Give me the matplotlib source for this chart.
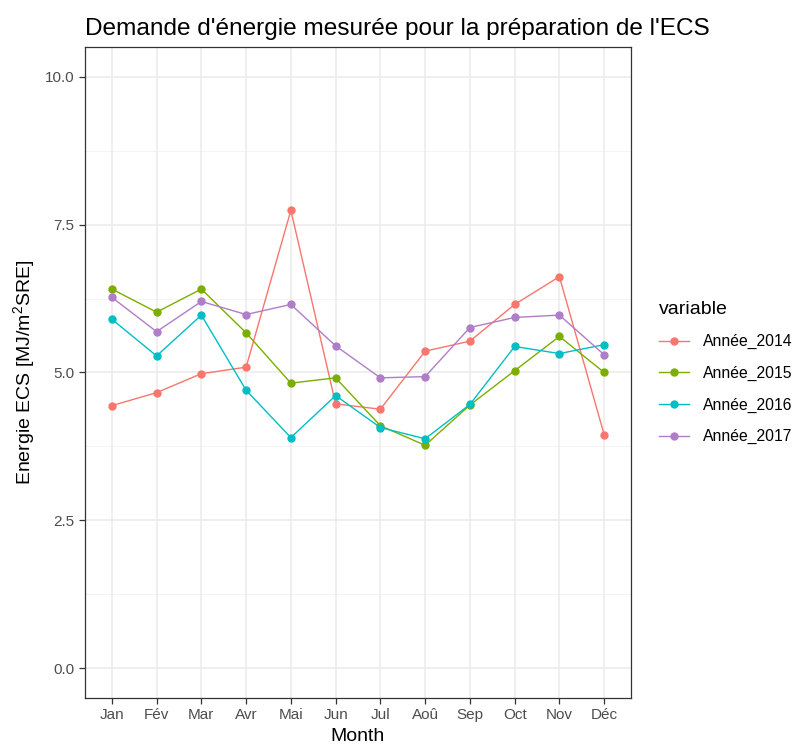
import matplotlib
matplotlib.use("Agg")
import matplotlib.pyplot as plt
import numpy as np

plt.rcParams['font.family'] = ['Liberation Sans', 'DejaVu Sans']
plt.rcParams['mathtext.fontset'] = 'custom'
plt.rcParams['mathtext.rm'] = 'Liberation Sans'
plt.rcParams['mathtext.it'] = 'Liberation Sans'

mois = ['Jan', 'Fév', 'Mar', 'Avr', 'Mai', 'Jun', 'Jul', 'Aoû', 'Sep', 'Oct', 'Nov', 'Déc']

annee_2014 = [4.44, 4.66, 4.98, 5.09, 7.74, 4.47, 4.38, 5.36, 5.53, 6.15, 6.62, 3.95]
annee_2015 = [6.41, 6.02, 6.41, 5.67, 4.82, 4.91, 4.10, 3.77, 4.45, 5.03, 5.61, 5.00]
annee_2016 = [5.90, 5.28, 5.97, 4.70, 3.90, 4.61, 4.07, 3.88, 4.46, 5.44, 5.32, 5.47]
annee_2017 = [6.27, 5.69, 6.20, 5.98, 6.15, 5.45, 4.91, 4.93, 5.76, 5.93, 5.97, 5.30]

series = {
    'Année_2014': annee_2014,
    'Année_2015': annee_2015,
    'Année_2016': annee_2016,
    'Année_2017': annee_2017,
}
couleurs = ['#F8766D', '#7CAE00', '#00BFC4', '#B07DC8']

fig = plt.figure(figsize=(7.98, 7.44), dpi=100, facecolor='white')
ax = fig.add_axes([85 / 798, 46 / 744, 546 / 798, 651 / 744])

x = np.arange(len(mois))

# grille style theme_bw
for v in [1.25, 3.75, 6.25, 8.75]:
    ax.axhline(v, color='#F2F2F2', lw=0.6, zorder=0)
for v in [0, 2.5, 5, 7.5, 10]:
    ax.axhline(v, color='#EBEBEB', lw=1.1, zorder=0)
for xi in x:
    ax.axvline(xi, color='#EBEBEB', lw=1.1, zorder=0)

for (nom, valeurs), c in zip(series.items(), couleurs):
    ax.plot(x, valeurs, '-o', color=c, lw=1.0, markersize=5, label=nom, zorder=3)

ax.set_xlim(-0.6, 11.6)
ax.set_ylim(-0.5, 10.5)
ax.set_xticks(x)
ax.set_xticklabels(mois)
ax.set_yticks([0, 2.5, 5, 7.5, 10])
ax.set_yticklabels(['0.0', '2.5', '5.0', '7.5', '10.0'])
ax.tick_params(colors='#333333', labelcolor='#4D4D4D', labelsize=11, length=4, width=0.9)

for spine in ax.spines.values():
    spine.set_color('#333333')
    spine.set_linewidth(0.9)

ax.set_title("Demande d'énergie mesurée pour la préparation de l'ECS",
             loc='left', fontsize=17.6, color='black', pad=9)
ax.set_xlabel('Month', fontsize=14, labelpad=4)
ax.set_ylabel('Energie ECS [MJ/m$^2$SRE]', fontsize=14, labelpad=6)

leg = ax.legend(title='variable', loc='center left', bbox_to_anchor=(1.04, 0.5),
                frameon=False, fontsize=11.3, title_fontsize=14,
                handlelength=1.9, labelspacing=1.05, handletextpad=0.9,
                borderaxespad=0)
leg._legend_box.align = 'left'

fig.savefig('out.png', dpi=100, facecolor='white')
